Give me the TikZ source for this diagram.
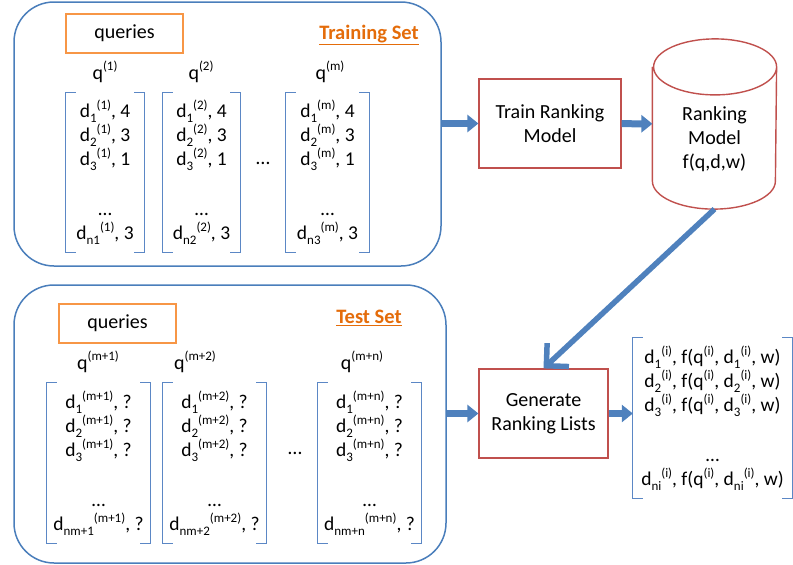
\documentclass[tikz,border=0pt]{standalone}
\usepackage{fontspec}
\setmainfont{Carlito}
\usepackage{tikz}
\usetikzlibrary{arrows.meta}
\definecolor{setblue}{HTML}{4A7EBB}
\definecolor{brkblue}{HTML}{5B87C5}
\definecolor{qorange}{HTML}{F79646}
\definecolor{titleorange}{HTML}{E46C0A}
\definecolor{boxred}{HTML}{C0504D}
\definecolor{arrblue}{HTML}{4F81BD}
\tikzstyle{setbox} = [rectangle, draw=setblue, line width=1.5pt, rounded corners=40pt]
\tikzstyle{qbox} = [rectangle, draw=qorange, line width=1.5pt,
    minimum width=117pt, minimum height=39pt, font=\fontsize{20}{24}\selectfont]
\tikzstyle{title} = [text=titleorange, font=\fontsize{20.5}{24}\selectfont\bfseries]
\tikzstyle{block} = [rectangle, draw=boxred, line width=1.2pt, align=center,
    font=\fontsize{20}{24}\selectfont]
\tikzstyle{qlabel} = [font=\fontsize{20}{24}\selectfont]
\tikzstyle{doclist} = [rectangle, inner sep=0pt, align=center, minimum height=160pt,
    font=\fontsize{19.5}{24}\selectfont]
\tikzstyle{bracket} = [draw=brkblue, line width=1pt]
\tikzstyle{cyl} = [draw=boxred, line width=1.4pt]
\tikzstyle{line} = [draw=arrblue, line width=7pt, -{Triangle[length=11pt,width=17pt]}]
\newcommand{\sups}[1]{\raisebox{0.42em}{\fontsize{13}{13}\selectfont #1}}
\newcommand{\subs}[1]{\raisebox{-0.25em}{\fontsize{13}{13}\selectfont #1}}
\newcommand{\docq}[2]{d\subs{#1}\sups{(#2)}}

\begin{document}
\begin{tikzpicture}[x=1pt,y=-1pt]
  \useasboundingbox (0,0) rectangle (793,565);
  % sets
  \node [setbox, minimum width=427pt, minimum height=264pt] (trainset) at (227.5,134) {};
  \node [setbox, minimum width=432pt, minimum height=278pt] (testset) at (230,424) {};
  \node [qbox] (trainq) at (124.5,33.5) {queries};
  \node [qbox] (testq) at (117.5,323.5) {queries};
  \node [title] (traintitle) at (369,35) {\underline{Training Set}};
  \node [title] (testtitle) at (369,318) {\underline{Test Set}};
  % training queries
  \node [qlabel] (q1) at (105,72) {q\sups{(1)}};
  \node [qlabel] (q2) at (201,72) {q\sups{(2)}};
  \node [qlabel] (qm) at (330,72) {q\sups{(m)}};
  \node [doclist, minimum width=78pt] (tr1) at (105,172.5)
    {\docq{1}{1}, 4\\ \docq{2}{1}, 3\\ \docq{3}{1}, 1\\[26pt] \ldots\\ \docq{n1}{1}, 3};
  \node [doclist, minimum width=77pt] (tr2) at (201.5,172.5)
    {\docq{1}{2}, 4\\ \docq{2}{2}, 3\\ \docq{3}{2}, 1\\[26pt] \ldots\\ \docq{n2}{2}, 3};
  \node [doclist, minimum width=83pt] (tr3) at (327.5,172.5)
    {\docq{1}{m}, 4\\ \docq{2}{m}, 3\\ \docq{3}{m}, 1\\[26pt] \ldots\\ \docq{n3}{m}, 3};
  \node [qlabel] (trdots) at (263,163) {\ldots};
  % test queries
  \node [qlabel] (qm1) at (98,362) {q\sups{(m+1)}};
  \node [qlabel] (qm2) at (195,362) {q\sups{(m+2)}};
  \node [qlabel] (qmn) at (362,362) {q\sups{(m+n)}};
  \node [doclist, minimum width=103pt] (te1) at (98.5,463)
    {\docq{1}{m+1}, ?\\ \docq{2}{m+1}, ?\\ \docq{3}{m+1}, ?\\[26pt] \ldots\\ \docq{nm+1}{m+1}, ?};
  \node [doclist, minimum width=103pt] (te2) at (214.5,463)
    {\docq{1}{m+2}, ?\\ \docq{2}{m+2}, ?\\ \docq{3}{m+2}, ?\\[26pt] \ldots\\ \docq{nm+2}{m+2}, ?};
  \node [doclist, minimum width=103pt] (te3) at (369.5,463)
    {\docq{1}{m+n}, ?\\ \docq{2}{m+n}, ?\\ \docq{3}{m+n}, ?\\[26pt] \ldots\\ \docq{nm+n}{m+n}, ?};
  \node [qlabel] (tedots) at (295,453) {\ldots};
  % model
  \node [block, minimum width=142pt, minimum height=89pt] (train) at (550,123.5) {Train Ranking\\Model};
  \node [block, draw=none, inner sep=0pt, minimum width=123pt, minimum height=169pt] (model) at (714.5,124) {};
  \draw [cyl] ([yshift=-28pt]model.north west) -- ([yshift=28pt]model.south west)
    arc [start angle=180, end angle=360, x radius=61.5pt, y radius=28pt]
    -- ([yshift=-28pt]model.north east)
    arc [start angle=0, end angle=360, x radius=61.5pt, y radius=28pt];
  \node [block, draw=none] (modeltxt) at (714.5,139) {Ranking\\Model\\f(q,d,w)};
  \node [block, minimum width=129pt, minimum height=89pt] (gen) at (543.5,413.5) {Generate\\Ranking Lists};
  \node [doclist, minimum width=159pt] (out) at (712.5,418)
    {\docq{1}{i}, f(q\sups{(i)}, \docq{1}{i}, w)\\
     \docq{2}{i}, f(q\sups{(i)}, \docq{2}{i}, w)\\
     \docq{3}{i}, f(q\sups{(i)}, \docq{3}{i}, w)\\[26pt] \ldots\\
     \docq{ni}{i}, f(q\sups{(i)}, \docq{ni}{i}, w)};
  % brackets
  \foreach \n in {tr1,tr2,tr3,te1,te2,te3,out} {
    \draw [bracket] ([xshift=10pt]\n.north west) -| (\n.south west) -- ++(10pt,0);
    \draw [bracket] ([xshift=-10pt]\n.north east) -| (\n.south east) -- ++(-10pt,0);
  }
  % edges
  \path [line] (trainset.east |- train.west) -- (train.west);
  \path [line] (train) -- (model);
  \path [line] (testset.east |- gen.west) -- (gen.west);
  \path [line] (gen.east) -- (gen.east -| out.west);
  \draw [draw=arrblue, line width=5.5pt, -{Straight Barb[length=16pt,width=32pt]}] (model.south) -- (gen.north);
\end{tikzpicture}
\end{document}
